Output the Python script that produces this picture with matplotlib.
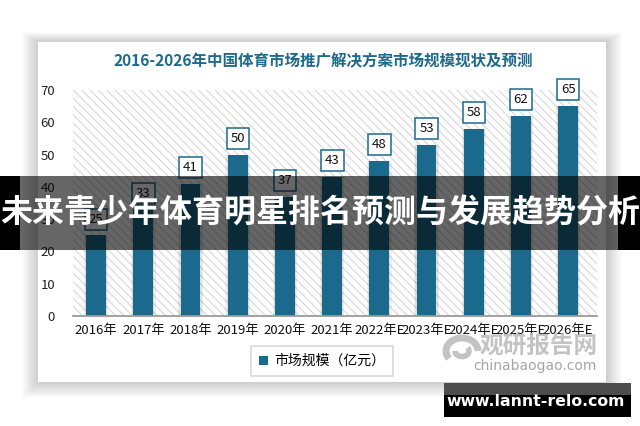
import matplotlib
matplotlib.use('Agg')
import matplotlib.pyplot as plt
from matplotlib.patches import Rectangle, Arc

plt.rcParams['font.family'] = ['Noto Sans CJK SC', 'DejaVu Sans']
plt.rcParams['hatch.linewidth'] = 0.7

categories = ['2016年', '2017年', '2018年', '2019年', '2020年', '2021年',
              '2022年E', '2023年E', '2024年E', '2025年E', '2026年E']
values = [25, 33, 41, 50, 37, 43, 48, 53, 58, 62, 65]
yticks = [0, 10, 20, 30, 40, 50, 60, 70]
title = '2016-2026年中国体育市场推广解决方案市场规模现状及预测'
series_name = '市场规模（亿元）'
banner = '未来青少年体育明星排名预测与发展趋势分析'
site = 'www.lannt-relo.com'
wm_cn = '观研报告网'
wm_en = 'chinabaogao.com'

BAR = '#1b6a8e'
W, H = 640, 426
fig = plt.figure(figsize=(6.4, 4.26), dpi=100)
fig.patch.set_facecolor('white')

# background layer: card + shadow
bg = fig.add_axes([0, 0, 1, 1], zorder=0)
bg.set_xlim(0, W); bg.set_ylim(H, 0); bg.axis('off')
cx0, cy0, cx1, cy1 = 38, 42, 606, 382
for d in range(16, 0, -1):
    bg.add_patch(Rectangle((cx0 - d, cy0 - d * 0.6), (cx1 - cx0) + 2 * d, (cy1 - cy0) + d * 1.6,
                           facecolor='black', edgecolor='none', alpha=0.012))
bg.add_patch(Rectangle((cx0, cy0), cx1 - cx0, cy1 - cy0, facecolor='white', edgecolor='none'))
bg.text(323, 61, title, ha='center', va='center', fontsize=11.2, fontweight='bold', color='#1d6a8b')

# chart axes
left_px, right_px, top_px, bot_px = 73, 597, 90, 316
ax = fig.add_axes([left_px / W, (H - bot_px) / H, (right_px - left_px) / W, (bot_px - top_px) / H], zorder=1)
ax.set_facecolor('none')
x = list(range(len(categories)))
xl0, xl1 = -0.49, 10.61
ax.set_xlim(xl0, xl1)
ax.set_ylim(0, 70)
ax.add_patch(Rectangle((xl0, 0), xl1 - xl0, 70, facecolor='white', edgecolor='#d2d2d2',
                       linewidth=0, hatch='\\\\\\\\', zorder=0))
# soft bar shadows
ax.bar(x, values, width=0.52, color='black', alpha=0.06, zorder=1)
ax.bar(x, values, width=0.47, color='black', alpha=0.06, zorder=1)
bars = ax.bar(x, values, width=0.42, color=BAR, zorder=2, label=series_name)
for i, v in zip(x, values):
    ax.annotate(str(v), (i, v), xytext=(0, 7), textcoords='offset points', ha='center', va='bottom',
                fontsize=9.5, color='#111111', zorder=4,
                bbox=dict(boxstyle='square,pad=0.3', fc='white', ec=BAR, lw=1.1))
ax.set_xticks(x)
ax.set_xticklabels(categories, fontsize=9.5, color='#111111')
ax.set_yticks(yticks)
ax.set_yticklabels([str(t) for t in yticks], fontsize=9.5, color='#222222')
ax.tick_params(axis='both', length=0)
ax.tick_params(axis='y', pad=13)
ax.tick_params(axis='x', pad=6)
for s in ['top', 'right', 'left']:
    ax.spines[s].set_visible(False)
ax.spines['bottom'].set_color('#9a9a9a')
ax.spines['bottom'].set_linewidth(1.3)
ax.spines['bottom'].set_zorder(3)
leg = ax.legend(handles=[bars], labels=[series_name], loc='center',
                bbox_to_anchor=(322 / W, (H - 361) / H), bbox_transform=fig.transFigure,
                fontsize=10, frameon=True, fancybox=False, handlelength=0.6, handleheight=0.6,
                handletextpad=0.45, borderpad=0.6, borderaxespad=0)
leg.get_frame().set_edgecolor('#d0d0d0')
leg.get_frame().set_linewidth(1.2)

# overlay layer
ov = fig.add_axes([0, 0, 1, 1], zorder=3)
ov.patch.set_alpha(0)
ov.set_xlim(0, W); ov.set_ylim(H, 0); ov.axis('off')
# watermark
ov.add_patch(Arc((462, 351), 32, 26, theta1=150, theta2=360, lw=5, color='#b4b4b4', alpha=0.8))
ov.add_patch(Arc((462, 351), 14, 11, theta1=330, theta2=180, lw=4, color='#b4b4b4', alpha=0.8))
ov.text(539, 346, wm_cn, ha='center', va='center', fontsize=17, fontweight='bold', color='#b9b9b9', alpha=0.85)
ov.text(535, 366, wm_en, ha='center', va='center', fontsize=10, color='#a5a5a5',
        family=['DejaVu Sans'])
# banner
ov.add_patch(Rectangle((0, 176), 20, 74, facecolor='black', edgecolor='none'))
ov.add_patch(Rectangle((618, 176), 22, 74, facecolor='black', edgecolor='none'))
ov.add_patch(Rectangle((20, 176), 598, 74, facecolor='black', edgecolor='none', alpha=0.6))
ov.text(W / 2, 214, banner, ha='center', va='center', fontsize=23, fontweight='bold', color='white')
# site box
ov.add_patch(Rectangle((444, 383), 187, 12, facecolor='#4d4d4d', edgecolor='none'))
ov.add_patch(Rectangle((444, 395), 187, 22, facecolor='black', edgecolor='none'))
ov.text(536, 401, site, ha='center', va='center', fontsize=11.3, fontweight='bold', color='white',
        family=['DejaVu Sans'])

fig.savefig('out.png', dpi=100, facecolor='white')
